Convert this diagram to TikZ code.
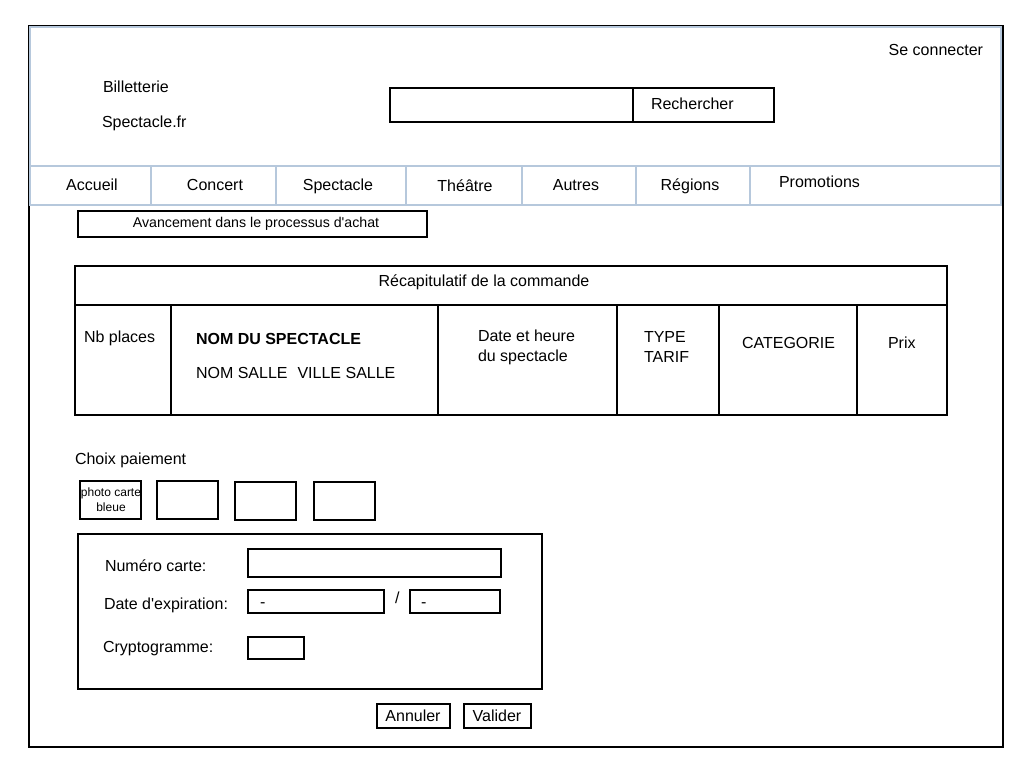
\documentclass[tikz,border=0pt]{standalone}
\usepackage{fontspec}
\setmainfont{Liberation Sans}
\definecolor{navblue}{RGB}{182,200,220}
\begin{document}
\begin{tikzpicture}[x=1pt,y=-1pt,
  every node/.style={inner sep=0pt, outer sep=0pt},
  outerframe/.style={draw=black, line width=2pt, anchor=north west},
  navline/.style={draw=navblue, line width=2pt, anchor=north west},
  thick box/.style={draw=black, line width=2pt, anchor=north west},
  thinbox/.style={draw=black, line width=1.2pt, anchor=north west},
  txt/.style={font=\fontsize{16}{20}\selectfont, anchor=west},
  navtxt/.style={font=\fontsize{16}{20}\selectfont, anchor=base},
  smalltxt/.style={font=\fontsize{14.2}{16}\selectfont},
  tinytxt/.style={font=\fontsize{12}{15}\selectfont, align=center}
]
\useasboundingbox (0,0) rectangle (1024,768);
\fill[white] (0,0) rectangle (1024,768);

% outer frame
\node[outerframe, minimum width=974, minimum height=721] (page) at (29,26) {};

% header
\node[navline, minimum width=971, minimum height=139] (header) at (30,27) {};
\node[txt] (brand1) at (103,87) {Billetterie};
\node[txt] (brand2) at (102,123) {Spectacle.fr};
\node[txt, anchor=east] (login) at (983,50) {Se connecter};
\node[thick box, minimum width=243, minimum height=34] (search) at (390,88) {};
\node[thick box, minimum width=141, minimum height=34] (searchbtn) at (633,88) {};
\node[txt] (searchlbl) at (651,104) {Rechercher};

% navigation
\node[navline, minimum width=121, minimum height=39] (nav1) at (30,166) {};
\node[navline, minimum width=125, minimum height=39] (nav2) at (151,166) {};
\node[navline, minimum width=130, minimum height=39] (nav3) at (276,166) {};
\node[navline, minimum width=116, minimum height=39] (nav4) at (406,166) {};
\node[navline, minimum width=114, minimum height=39] (nav5) at (522,166) {};
\node[navline, minimum width=114, minimum height=39] (nav6) at (636,166) {};
\node[navline, minimum width=251, minimum height=39] (nav7) at (750,166) {};
\node[navtxt] at (92,190) {Accueil};
\node[navtxt] at (215,190.5) {Concert};
\node[navtxt] at (338,190.5) {Spectacle};
\node[navtxt] at (465,191.5) {Théâtre};
\node[navtxt] at (576,190.5) {Autres};
\node[navtxt] at (690,190.5) {Régions};
\node[navtxt, anchor=base west] at (779,187.5) {Promotions};

% progress
\node[thinbox, minimum width=349, minimum height=26] (progress) at (78,211) {};
\node[smalltxt] at (256,224) {Avancement dans le processus d\textquotesingle achat};

% summary table
\node[thinbox, minimum width=872, minimum height=39] (thead) at (75,266) {};
\node[txt, anchor=center] at (484,282) {Récapitulatif de la commande};
\node[thinbox, minimum width=96, minimum height=110] (c1) at (75,305) {};
\node[thinbox, minimum width=267, minimum height=110] (c2) at (171,305) {};
\node[thinbox, minimum width=179, minimum height=110] (c3) at (438,305) {};
\node[thinbox, minimum width=102, minimum height=110] (c4) at (617,305) {};
\node[thinbox, minimum width=138, minimum height=110] (c5) at (719,305) {};
\node[thinbox, minimum width=90, minimum height=110] (c6) at (857,305) {};
\node[txt] at (84,338) {Nb places};
\node[txt, font=\fontsize{16}{19}\selectfont\bfseries] at (196,339) {NOM DU SPECTACLE};
\node[txt] at (196,373) {NOM SALLE\hspace{10pt}VILLE SALLE};
\node[txt, align=left, anchor=north west] at (478,330) {Date et heure\\du spectacle};
\node[txt, align=left, anchor=north west] at (644,331) {TYPE\\TARIF};
\node[txt] at (742,343) {CATEGORIE};
\node[txt] at (888,343) {Prix};

% payment choice
\node[txt] at (75,460) {Choix paiement};
\node[thinbox, minimum width=61, minimum height=38] (card1) at (80,481) {};
\node[tinytxt] at (111,500) {photo carte\\bleue};
\node[thinbox, minimum width=61, minimum height=38] (card2) at (157,481) {};
\node[thinbox, minimum width=61, minimum height=38] (card3) at (235,482) {};
\node[thinbox, minimum width=61, minimum height=38] (card4) at (314,482) {};

% card form
\node[thinbox, minimum width=464, minimum height=155] (form) at (78,534) {};
\node[txt] at (105,566) {Numéro carte:};
\node[thinbox, minimum width=253, minimum height=28] (cardnum) at (248,549) {};
\node[txt] at (104,605) {Date d\textquotesingle expiration:};
\node[thinbox, minimum width=136, minimum height=23] (month) at (248,590) {};
\node[txt] at (260,605) {-};
\node[txt] at (395,598) {/};
\node[thinbox, minimum width=90, minimum height=23] (year) at (410,590) {};
\node[txt] at (421,605) {-};
\node[txt] at (103,649) {Cryptogramme:};
\node[thinbox, minimum width=56, minimum height=22] (crypto) at (248,637) {};

% buttons
\node[thinbox, minimum width=73, minimum height=24] (cancel) at (377,704) {};
\node[navtxt] at (413,721) {Annuler};
\node[thinbox, minimum width=67, minimum height=24] (validate) at (464,704) {};
\node[navtxt] at (497,721) {Valider};
\end{tikzpicture}
\end{document}
